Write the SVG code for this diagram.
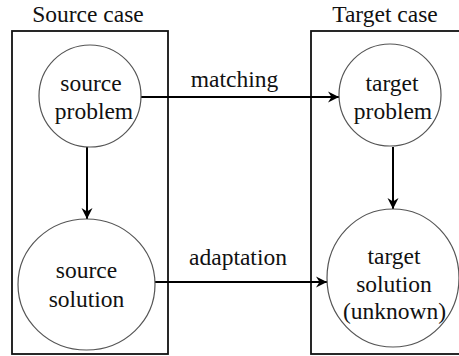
<svg xmlns="http://www.w3.org/2000/svg" width="459" height="356" viewBox="0 0 459 356">
<style>
text{font-family:'Liberation Serif','Times New Roman',serif;font-size:23.5px;fill:#111;text-anchor:middle}
.box{fill:none;stroke:#111;stroke-width:1.8}
.node{fill:#fff;stroke:#555;stroke-width:1.2}
.edge{fill:none;stroke:#000;stroke-width:2}
</style>
<defs>
<marker id="ah" markerUnits="userSpaceOnUse" markerWidth="12" markerHeight="12" refX="11" refY="6" orient="auto">
<path d="M0,0.5 L11,6 L0,11.5 L3.5,6 z" fill="#000"/>
</marker>
</defs>
<g id="source-case">
<rect class="box" x="12" y="31" width="156" height="323"/>
<text x="88" y="22">Source case</text>
</g>
<g id="target-case">
<rect class="box" x="311" y="31" width="160" height="323"/>
<text x="385" y="22">Target case</text>
</g>
<g id="connectors">
<line class="edge" x1="141" y1="97" x2="339" y2="97" marker-end="url(#ah)"/>
<line class="edge" x1="155" y1="282" x2="327" y2="282" marker-end="url(#ah)"/>
<line class="edge" x1="87" y1="147" x2="87" y2="219" marker-end="url(#ah)"/>
<line class="edge" x1="393" y1="147" x2="393" y2="209" marker-end="url(#ah)"/>
<text x="234.5" y="87">matching</text>
<text x="238" y="265">adaptation</text>
</g>
<g id="source-problem">
<circle class="node" cx="90" cy="96" r="51"/>
<text x="91" y="91">source</text>
<text x="94" y="119">problem</text>
</g>
<g id="target-problem">
<circle class="node" cx="390" cy="95" r="51"/>
<text x="392" y="91">target</text>
<text x="393" y="119">problem</text>
</g>
<g id="source-solution">
<ellipse class="node" cx="86.5" cy="284.5" rx="68.5" ry="65.5"/>
<text x="86.5" y="278">source</text>
<text x="86.5" y="307">solution</text>
</g>
<g id="target-solution">
<ellipse class="node" cx="393" cy="278" rx="66" ry="69"/>
<text x="394" y="264">target</text>
<text x="394" y="292">solution</text>
<text x="394.5" y="319">(unknown)</text>
</g>
</svg>
